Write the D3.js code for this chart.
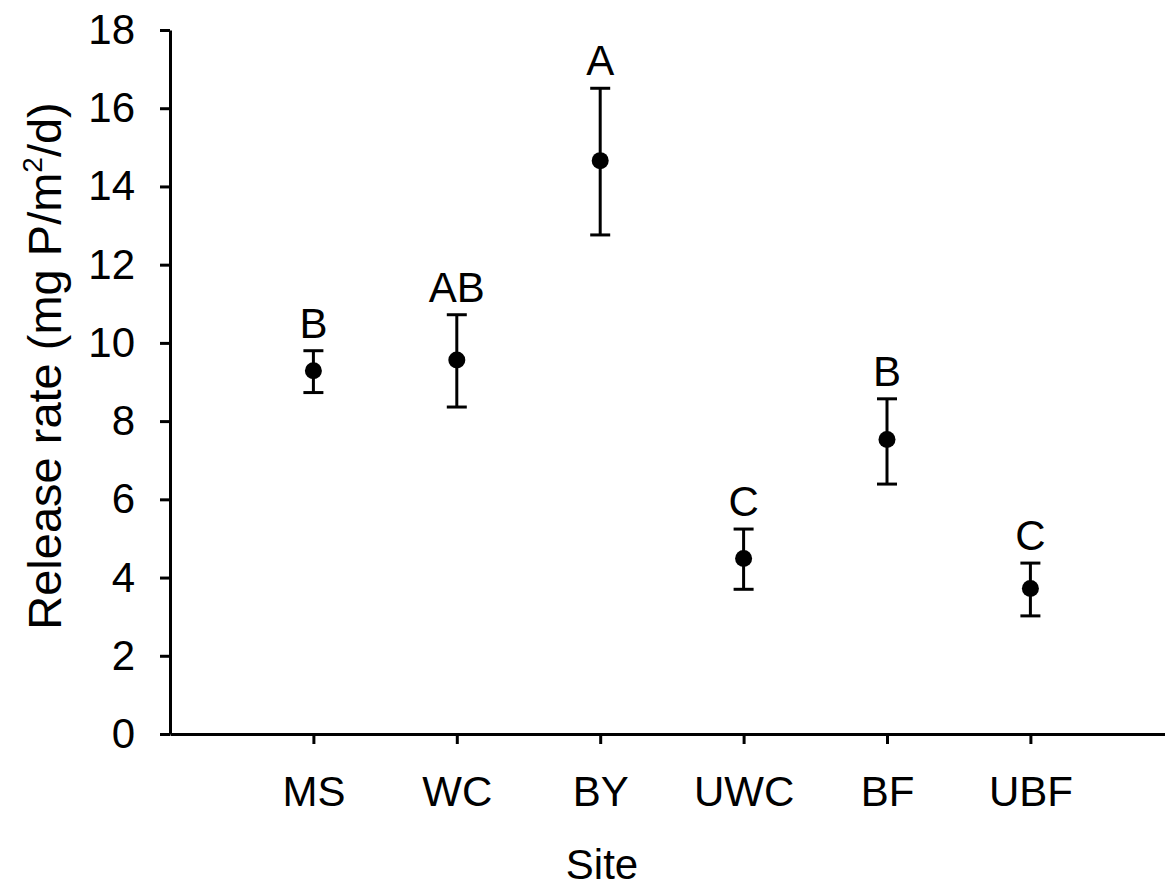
<!DOCTYPE html>
<html>
<head>
<meta charset="utf-8">
<script src="https://cdn.jsdelivr.net/npm/d3@7"></script>
<style>
  body { margin: 0; background: #fff; }
  svg text { font-family: "Liberation Sans", Arial, sans-serif; fill: #000; }
</style>
</head>
<body>
<div id="chart"></div>
<script>
// donnees
const sites = ["MS", "WC", "BY", "UWC", "BF", "UBF"];
const means = [9.29, 9.56, 14.66, 4.49, 7.53, 3.72];
const upper = [9.80, 10.72, 16.51, 5.24, 8.57, 4.37];
const lower = [8.73, 8.36, 12.76, 3.70, 6.39, 3.02];
const letters = ["B", "AB", "A", "C", "B", "C"];
const yTicks = [0, 2, 4, 6, 8, 10, 12, 14, 16, 18];

const width = 1165;
const height = 888;
const margin = { top: 30, right: 0, bottom: 154, left: 170 };

const svg = d3.select("#chart")
  .append("svg")
  .attr("width", width)
  .attr("height", height);

const points = sites.map((s, i) => ({
  site: s, pos: i + 1, mean: means[i], hi: upper[i], lo: lower[i], letter: letters[i]
}));

// echelles
const xScale = d3.scaleLinear()
  .domain([0, 7])
  .range([margin.left, margin.left + 143.4 * 7]);

const yScale = d3.scaleLinear()
  .domain([0, 18])
  .range([height - margin.bottom, margin.top]);

// axes
const xAxis = d3.axisBottom(xScale)
  .tickValues(points.map(d => d.pos))
  .tickFormat((d, i) => sites[i])
  .tickSizeInner(10)
  .tickSizeOuter(0)
  .tickPadding(32);

const yAxis = d3.axisLeft(yScale)
  .tickValues(yTicks)
  .tickSizeInner(10)
  .tickSizeOuter(0)
  .tickPadding(25);

const gx = svg.append("g")
  .attr("transform", `translate(0, ${yScale(0)})`)
  .call(xAxis);

const gy = svg.append("g")
  .attr("transform", `translate(${margin.left}, 0)`)
  .call(yAxis);

[gx, gy].forEach(g => {
  g.selectAll("path, line").attr("stroke", "#000").attr("stroke-width", 3);
  g.selectAll("text").attr("font-size", 42).attr("font-family", "Liberation Sans, Arial, sans-serif").attr("fill", "#000");
});

// barres d'erreur
const capW = 10;
const eb = svg.append("g").attr("stroke", "#000").attr("stroke-width", 3);

eb.selectAll("line.v")
  .data(points)
  .join("line")
  .attr("class", "v")
  .attr("x1", d => xScale(d.pos))
  .attr("x2", d => xScale(d.pos))
  .attr("y1", d => yScale(d.lo))
  .attr("y2", d => yScale(d.hi));

eb.selectAll("line.top")
  .data(points)
  .join("line")
  .attr("class", "top")
  .attr("x1", d => xScale(d.pos) - capW)
  .attr("x2", d => xScale(d.pos) + capW)
  .attr("y1", d => yScale(d.hi))
  .attr("y2", d => yScale(d.hi));

eb.selectAll("line.bot")
  .data(points)
  .join("line")
  .attr("class", "bot")
  .attr("x1", d => xScale(d.pos) - capW)
  .attr("x2", d => xScale(d.pos) + capW)
  .attr("y1", d => yScale(d.lo))
  .attr("y2", d => yScale(d.lo));

// points
svg.selectAll("circle")
  .data(points)
  .join("circle")
  .attr("cx", d => xScale(d.pos))
  .attr("cy", d => yScale(d.mean))
  .attr("r", 8.5)
  .attr("fill", "#000");

// lettres de significativite
svg.selectAll("text.letter")
  .data(points)
  .join("text")
  .attr("class", "letter")
  .attr("x", d => xScale(d.pos))
  .attr("y", d => yScale(d.hi) - 13)
  .attr("text-anchor", "middle")
  .attr("font-size", 42)
  .text(d => d.letter);

// titres des axes
const yTitle = svg.append("text")
  .attr("transform", `translate(61, ${366}) rotate(-90)`)
  .attr("text-anchor", "middle")
  .attr("font-size", 47);
yTitle.append("tspan").text("Release rate (mg P/m");
yTitle.append("tspan").attr("font-size", 28).attr("dy", -19).text("2");
yTitle.append("tspan").attr("dy", 19).text("/d)");

svg.append("text")
  .attr("x", 602)
  .attr("y", 879)
  .attr("text-anchor", "middle")
  .attr("font-size", 42)
  .text("Site");
</script>
</body>
</html>
